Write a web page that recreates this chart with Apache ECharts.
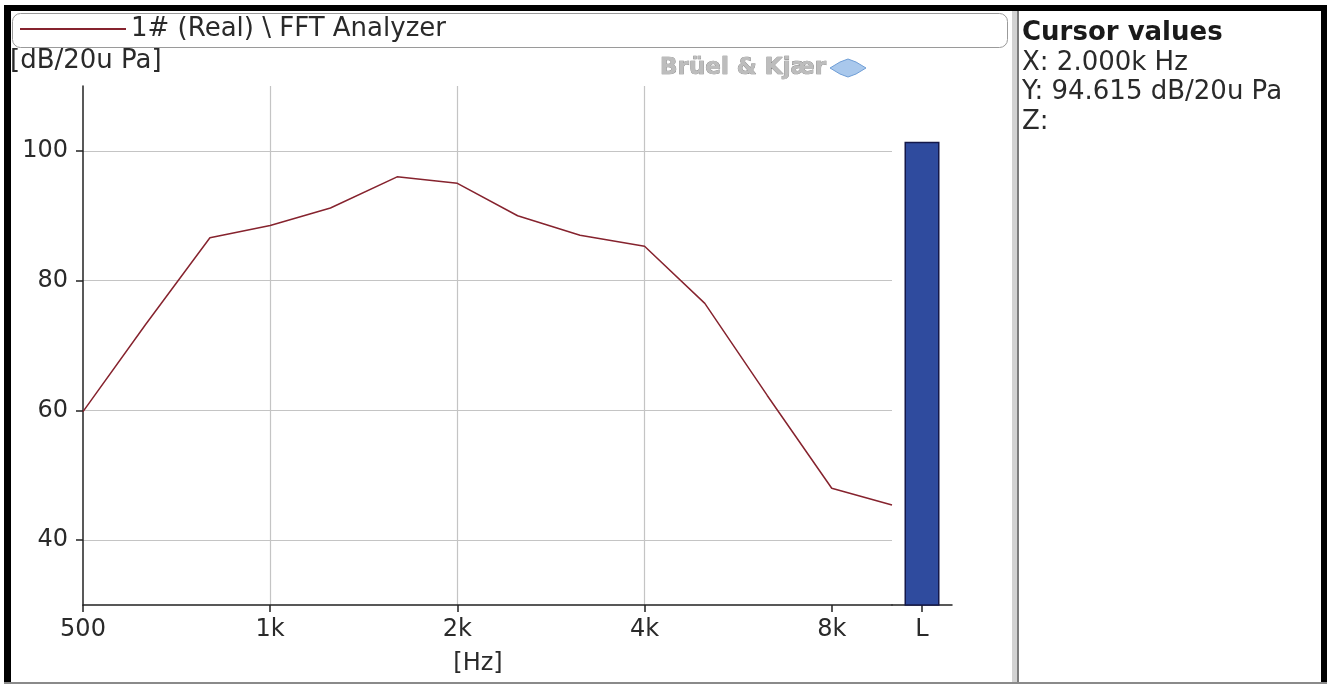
<!DOCTYPE html>
<html>
<head>
<meta charset="utf-8">
<title>FFT Analyzer</title>
<script src="https://cdn.jsdelivr.net/npm/echarts@6/dist/echarts.min.js"></script>
<style>
html, body { margin: 0; padding: 0; background: #fff; }
#main { width: 1327px; height: 684px; }
</style>
</head>
<body>
<div id="main"></div>
<script>
// 1/3 octave band centres (Hz)
var freqs = [500, 630, 800, 1000, 1250, 1600, 2000, 2500, 3150, 4000, 5000, 6300, 8000, 10000];
// band levels, dB re 20 uPa
var levels = [59.8, 73.2, 86.6, 88.5, 91.2, 96.0, 95.0, 90.0, 87.0, 85.3, 76.5, 62.3, 48.0, 45.4];
// overall level bar
var totalCats = ['L'];
var totalLevel = [101.4];
// ticks (x is in octaves above 500 Hz)
var xTickValues = [0, 1, 2, 3, 4];
var xTickLabels = ['500', '1k', '2k', '4k', '8k'];
var yTickValues = [40, 60, 80, 100];
var seriesName = '1# (Real) \\ FFT Analyzer';
var cursorLines = ['X: 2.000k Hz', 'Y: 94.615 dB/20u Pa', 'Z:'];

var FONT = 'DejaVu Sans';
var TXT = '#2a2a2a';
var LINE_COLOR = '#86232e';

window.onload = function () {
    var chart = echarts.init(document.getElementById('main'));

    // frequency -> octaves above 500 Hz
    var linePoints = freqs.map(function (f, i) {
        return [Math.log2(f / freqs[0]), levels[i]];
    });

    var graphics = [
        // frame
        { type: 'rect', shape: { x: 4, y: 5, width: 1323, height: 6 }, style: { fill: '#000' }, z: 100 },
        { type: 'rect', shape: { x: 4, y: 5, width: 7, height: 679 }, style: { fill: '#000' }, z: 100 },
        { type: 'rect', shape: { x: 1321, y: 5, width: 6, height: 679 }, style: { fill: '#000' }, z: 100 },
        { type: 'rect', shape: { x: 4, y: 682, width: 1323, height: 2 }, style: { fill: '#8a8a8a' }, z: 100 },
        // splitter to cursor panel
        { type: 'rect', shape: { x: 1012, y: 11, width: 5, height: 671 }, style: { fill: '#d2d2d2' } },
        { type: 'rect', shape: { x: 1017, y: 11, width: 2, height: 671 }, style: { fill: '#7c7c7c' } },
        // legend box
        { type: 'rect', shape: { x: 12.5, y: 13.5, width: 995, height: 34, r: 8 },
          style: { fill: '#fff', stroke: '#9a9a9a', lineWidth: 1 }, z: -1 },
        // units
        { type: 'text', x: 10, y: 61, style: { text: '[dB/20u Pa]', font: '26px "' + FONT + '"', fill: TXT, verticalAlign: 'middle' } },
        { type: 'text', x: 478, y: 664, style: { text: '[Hz]', font: '24px "' + FONT + '"', fill: TXT, align: 'center', verticalAlign: 'middle' } },
        // logo
        { type: 'text', x: 826, y: 68, style: { text: 'Brüel & Kjær', font: 'bold 23px "' + FONT + '"', fill: '#bdbdbd', stroke: '#7a7a7a', lineWidth: 0.7, align: 'right', verticalAlign: 'middle' } },
        { type: 'polygon', shape: { points: [[830, 68], [840, 62], [848, 59], [856, 62], [866, 68], [856, 74], [848, 77], [840, 74]] },
          style: { fill: '#a9c8ec', stroke: '#6f9ed6', lineWidth: 1 } },
        // cursor panel
        { type: 'text', x: 1022, y: 33, style: { text: 'Cursor values', font: 'bold 26px "' + FONT + '"', fill: '#1a1a1a', verticalAlign: 'middle' } }
    ];
    cursorLines.forEach(function (s, i) {
        graphics.push({ type: 'text', x: 1022, y: 63 + i * 29.5,
            style: { text: s, font: '26px "' + FONT + '"', fill: TXT, verticalAlign: 'middle' } });
    });

    var option = {
        animation: false,
        backgroundColor: '#fff',
        textStyle: { fontFamily: FONT },
        legend: {
            data: [{ name: seriesName, icon: 'rect' }],
            left: 20, top: 15, padding: 0,
            itemWidth: 106, itemHeight: 2,
            itemStyle: { color: LINE_COLOR },
            textStyle: { fontSize: 26, color: TXT, lineHeight: 28, fontFamily: FONT }
        },
        grid: [
            { left: 83, top: 86, width: 809, height: 519 },
            { left: 892, top: 86, width: 60, height: 519 }
        ],
        xAxis: [{
            gridIndex: 0,
            type: 'value',
            min: 0,
            max: Math.log2(freqs[freqs.length - 1] / freqs[0]),
            axisLine: { show: true, lineStyle: { color: '#222', width: 1.5 } },
            axisTick: { show: true, length: 7, customValues: xTickValues, lineStyle: { color: '#222', width: 1.5 } },
            axisLabel: {
                customValues: xTickValues, margin: 13, fontSize: 24, color: TXT, fontFamily: FONT,
                formatter: function (v) { return xTickLabels[Math.round(v)]; }
            },
            splitLine: { show: true, showMinLine: false, showMaxLine: false, lineStyle: { color: '#c4c4c4', width: 1.2 } }
        }, {
            gridIndex: 1,
            type: 'category',
            data: totalCats,
            axisLine: { show: true, lineStyle: { color: '#222', width: 1.5 } },
            axisTick: { show: true, length: 7, alignWithLabel: true, lineStyle: { color: '#222', width: 1.5 } },
            axisLabel: { margin: 13, fontSize: 24, color: TXT, fontFamily: FONT },
            splitLine: { show: false }
        }],
        yAxis: [{
            gridIndex: 0,
            type: 'value',
            min: 30,
            max: 110,
            axisLine: { show: true, lineStyle: { color: '#222', width: 1.5 } },
            axisTick: { show: true, length: 7, customValues: yTickValues, lineStyle: { color: '#222', width: 1.5 } },
            axisLabel: { customValues: yTickValues, margin: 15, fontSize: 24, color: TXT, fontFamily: FONT },
            splitLine: { show: true, lineStyle: { color: '#c4c4c4', width: 1.2 } }
        }, {
            gridIndex: 1,
            type: 'value',
            min: 30,
            max: 110,
            show: false,
            splitLine: { show: false }
        }],
        series: [{
            name: seriesName,
            type: 'line',
            xAxisIndex: 0,
            yAxisIndex: 0,
            data: linePoints,
            symbol: 'none',
            lineStyle: { color: LINE_COLOR, width: 1.5 },
            itemStyle: { color: LINE_COLOR }
        }, {
            name: 'L',
            type: 'bar',
            xAxisIndex: 1,
            yAxisIndex: 1,
            data: totalLevel,
            barWidth: 35,
            itemStyle: { color: '#2f4b9e', borderColor: '#14184a', borderWidth: 1.5 }
        }],
        graphic: graphics
    };

    chart.setOption(option);
};
</script>
</body>
</html>
